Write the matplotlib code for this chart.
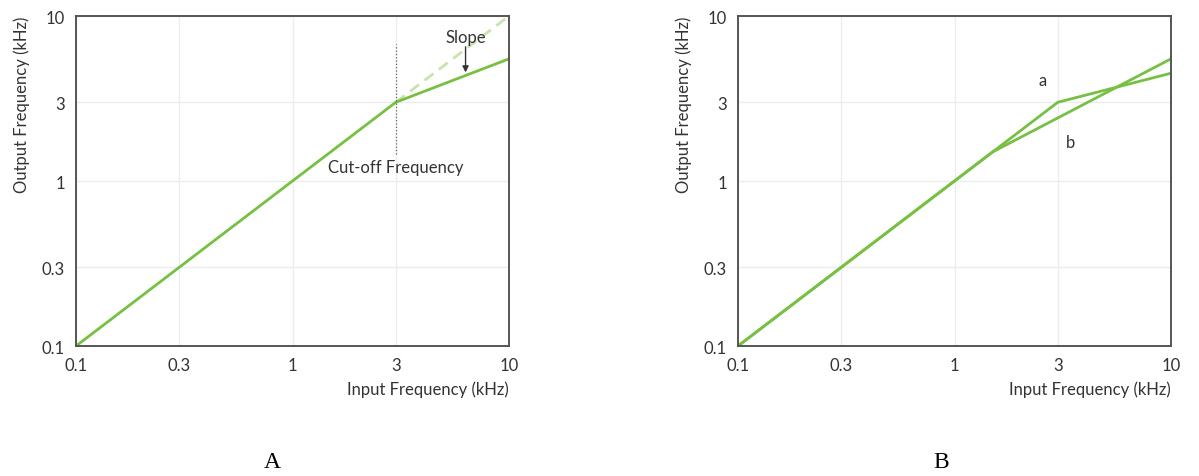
import matplotlib
matplotlib.use("Agg")
import matplotlib.pyplot as plt
from matplotlib.ticker import FixedLocator, NullLocator

# panel A: single response with a cut-off
a_x = [0.1, 3, 10]
a_y = [0.1, 3, 5.5]
ideal_x = [3, 10]
ideal_y = [3, 10]
cutoff = 3
cutoff_span = [1.45, 6.8]

# panel B: two responses
b_a_x = [0.1, 3, 10]
b_a_y = [0.1, 3, 4.5]
b_b_x = [0.1, 1.5, 10]
b_b_y = [0.1, 1.5, 5.5]

ticks = [0.1, 0.3, 1, 3, 10]
tick_labels = ["0.1", "0.3", "1", "3", "10"]

green = "#77c043"
light_green = "#c8e3ac"
font = ["Lato", "DejaVu Sans"]
fs = 12

fig = plt.figure(figsize=(11.99, 4.77), dpi=100)
W, H = 1199, 477
axA = fig.add_axes([76 / W, 1 - 347 / H, 433 / W, 330 / H])
axB = fig.add_axes([738 / W, 1 - 347 / H, 433 / W, 330 / H])

for ax in (axA, axB):
    ax.set_xscale("log")
    ax.set_yscale("log")
    ax.set_xlim(0.1, 10)
    ax.set_ylim(0.1, 10)
    ax.xaxis.set_major_locator(FixedLocator(ticks))
    ax.yaxis.set_major_locator(FixedLocator(ticks))
    ax.xaxis.set_minor_locator(NullLocator())
    ax.yaxis.set_minor_locator(NullLocator())
    ax.set_xticklabels(tick_labels, family=font, fontsize=fs, color="#333333")
    ax.set_yticklabels(tick_labels, family=font, fontsize=fs, color="#333333")
    ax.tick_params(length=0, pad=8)
    ax.grid(True, color="#ececec", linewidth=1)
    ax.set_axisbelow(True)
    for s in ax.spines.values():
        s.set_color("#555555")
        s.set_linewidth(1.4)
    ax.text(1.0, -0.105, "Input Frequency (kHz)", transform=ax.transAxes,
            ha="right", va="top", family=font, fontsize=fs, color="#333333")
    ax.text(-0.125, 1.0, "Output Frequency (kHz)", transform=ax.transAxes,
            ha="center", va="top", rotation=90, family=font, fontsize=fs,
            color="#333333")

# panel A
axA.plot(ideal_x, ideal_y, color=light_green, linewidth=2, dashes=(4, 2.5))
axA.plot(a_x, a_y, color=green, linewidth=2)
axA.plot([cutoff, cutoff], cutoff_span, color="#666666", linewidth=0.9, linestyle=":")
axA.text(cutoff, 1.22, "Cut-off Frequency", ha="center", va="center",
         family=font, fontsize=fs, color="#333333")
axA.text(6.3, 7.5, "Slope", ha="center", va="center", family=font,
         fontsize=fs, color="#333333")
axA.annotate("", xy=(6.3, 4.55), xytext=(6.3, 6.5),
             arrowprops=dict(arrowstyle="-|>", color="#333333", lw=1,
                             mutation_scale=9, shrinkA=0, shrinkB=0))

# panel B
axB.plot(b_b_x, b_b_y, color=green, linewidth=2)
axB.plot(b_a_x, b_a_y, color=green, linewidth=2)
axB.text(2.56, 4.1, "a", ha="center", va="center", family=font,
         fontsize=fs, color="#333333")
axB.text(3.45, 1.72, "b", ha="center", va="center", family=font,
         fontsize=fs, color="#333333")

fig.text(272 / W, 1 - 463 / H, "A", ha="center", va="center",
         family="Liberation Serif", fontsize=17)
fig.text(941 / W, 1 - 463 / H, "B", ha="center", va="center",
         family="Liberation Serif", fontsize=17)

fig.savefig("out.png", dpi=100)
